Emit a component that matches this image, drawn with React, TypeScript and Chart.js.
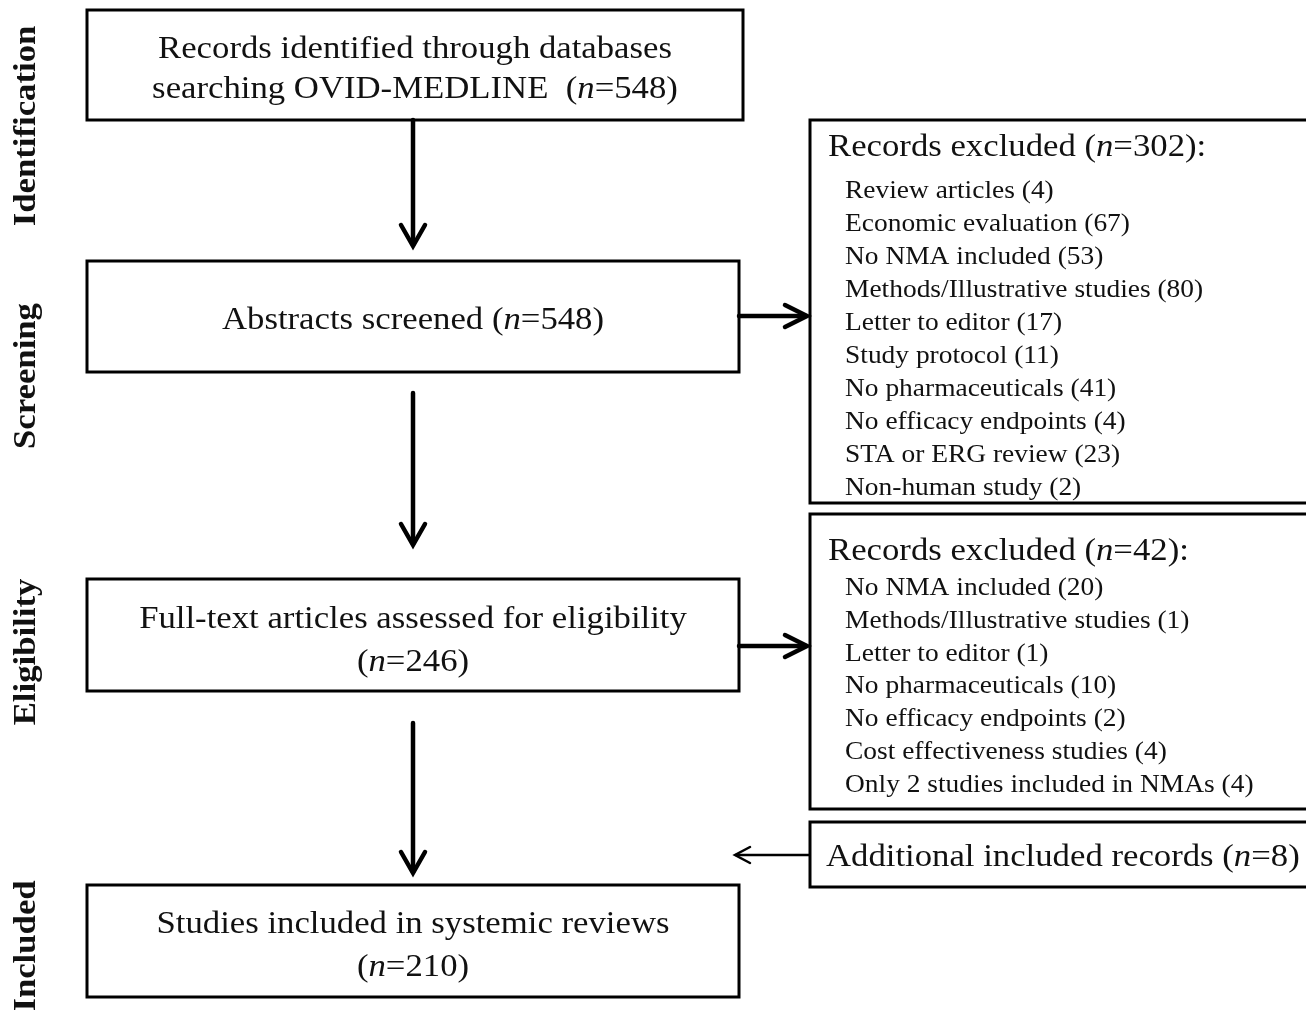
import React, { useEffect, useRef } from "react";
import { Chart, registerables } from "chart.js";

Chart.register(...registerables);

// ---------- DATA ----------
const stageLabels = ["Identification", "Screening", "Eligibility", "Included"];

const identifiedCount = 548;
const screenedCount = 548;
const fullTextCount = 246;
const includedCount = 210;
const additionalCount = 8;

const screeningExclusionReasons = [
  "Review articles",
  "Economic evaluation",
  "No NMA included",
  "Methods/Illustrative studies",
  "Letter to editor",
  "Study protocol",
  "No pharmaceuticals",
  "No efficacy endpoints",
  "STA or ERG review",
  "Non-human study",
];
const screeningExclusionCounts = [4, 67, 53, 80, 17, 11, 41, 4, 23, 2];

const eligibilityExclusionReasons = [
  "No NMA included",
  "Methods/Illustrative studies",
  "Letter to editor",
  "No pharmaceuticals",
  "No efficacy endpoints",
  "Cost effectiveness studies",
  "Only 2 studies included in NMAs",
];
const eligibilityExclusionCounts = [20, 1, 1, 10, 2, 4, 4];

// ---------- LAYOUT (pixel-space values mapped through the chart scales) ----------
const W = 1306;
const H = 1010;
const FONT = '"Liberation Serif", "Times New Roman", serif';
const STRETCH = 1.12;
const MAIN_SIZE = 31;
const ITEM_SIZE = 24.5;

const LAYOUT = {
  box1: { x0: 87, x1: 743, y0: 10, y1: 120, baselines: [58, 98] },
  box2: { x0: 87, x1: 739, y0: 261, y1: 372, baselines: [329] },
  box4: { x0: 87, x1: 739, y0: 579, y1: 691, baselines: [628, 671] },
  box7: { x0: 87, x1: 739, y0: 885, y1: 997, baselines: [933, 976] },
  ex1: { x0: 810, x1: 1312, y0: 120, y1: 503, titleX: 828, titleY: 156, itemX: 845, itemY0: 197.5, itemDy: 33.1 },
  ex2: { x0: 810, x1: 1312, y0: 514, y1: 809, titleX: 828, titleY: 560, itemX: 845, itemY0: 595, itemDy: 32.8 },
  add: { x0: 810, x1: 1312, y0: 822, y1: 887, textX: 826, textY: 866 },
  stageX: 35,
  stageY: [126, 376, 652, 946],
  arrowX: 413,
  vArrows: [
    [120, 248],
    [393, 547],
    [723, 875],
  ],
  hArrows: [
    [739, 809, 316],
    [739, 809, 646],
  ],
  backArrow: [809, 734, 855],
};

function drawRich(ctx, str, x, y, size, align, bold = false) {
  // split so that the "n" of "(n=" is italic
  const parts = str.split(/(?<=\()n(?==)/);
  const segs = [];
  parts.forEach((p, i) => {
    if (i > 0) segs.push({ t: "n", it: true });
    if (p) segs.push({ t: p, it: false });
  });
  const fontFor = (it) => `${it ? "italic " : ""}${bold ? "bold " : ""}${size}px ${FONT}`;
  let total = 0;
  segs.forEach((s) => {
    ctx.font = fontFor(s.it);
    s.w = ctx.measureText(s.t).width;
    total += s.w;
  });
  ctx.save();
  ctx.translate(x, y);
  ctx.scale(STRETCH, 1);
  let cx = align === "center" ? -total / 2 : 0;
  ctx.textAlign = "left";
  ctx.textBaseline = "alphabetic";
  segs.forEach((s) => {
    ctx.font = fontFor(s.it);
    ctx.fillText(s.t, cx, 0);
    cx += s.w;
  });
  ctx.restore();
}

const flowPlugin = {
  id: "flow",
  beforeDraw(chart) {
    const ctx = chart.ctx;
    ctx.save();
    ctx.fillStyle = "#ffffff";
    ctx.fillRect(0, 0, chart.width, chart.height);
    ctx.restore();
  },
  afterDraw(chart) {
    const ctx = chart.ctx;
    const sx = chart.scales.x;
    const sy = chart.scales.y;
    const X = (v) => sx.getPixelForValue(v);
    const Y = (v) => sy.getPixelForValue(v);

    ctx.save();
    ctx.strokeStyle = "#000";
    ctx.fillStyle = "#111";

    const box = (b) => {
      ctx.lineWidth = 3;
      ctx.strokeRect(X(b.x0), Y(b.y0), X(b.x1) - X(b.x0), Y(b.y1) - Y(b.y0));
    };

    const mainBoxes = [
      [LAYOUT.box1, ["Records identified through databases", `searching OVID-MEDLINE  (n=${identifiedCount})`]],
      [LAYOUT.box2, [`Abstracts screened (n=${screenedCount})`]],
      [LAYOUT.box4, ["Full-text articles assessed for eligibility", `(n=${fullTextCount})`]],
      [LAYOUT.box7, ["Studies included in systemic reviews", `(n=${includedCount})`]],
    ];
    mainBoxes.forEach(([b, lines]) => {
      box(b);
      const cx = (X(b.x0) + X(b.x1)) / 2;
      lines.forEach((ln, i) => drawRich(ctx, ln, cx, Y(b.baselines[i]), MAIN_SIZE, "center"));
    });

    const exBoxes = [
      [LAYOUT.ex1, screeningExclusionReasons, screeningExclusionCounts],
      [LAYOUT.ex2, eligibilityExclusionReasons, eligibilityExclusionCounts],
    ];
    exBoxes.forEach(([b, reasons, counts]) => {
      box(b);
      const total = counts.reduce((a, c) => a + c, 0);
      drawRich(ctx, `Records excluded (n=${total}):`, X(b.titleX), Y(b.titleY), MAIN_SIZE, "left");
      reasons.forEach((r, i) => {
        drawRich(ctx, `${r} (${counts[i]})`, X(b.itemX), Y(b.itemY0 + i * b.itemDy), ITEM_SIZE, "left");
      });
    });

    box(LAYOUT.add);
    drawRich(ctx, `Additional included records (n=${additionalCount})`, X(LAYOUT.add.textX), Y(LAYOUT.add.textY), MAIN_SIZE, "left");

    // arrows
    ctx.lineCap = "round";
    ctx.lineJoin = "miter";
    LAYOUT.vArrows.forEach(([a, b]) => {
      const x = X(LAYOUT.arrowX);
      ctx.lineWidth = 4.5;
      ctx.beginPath();
      ctx.moveTo(x, Y(a));
      ctx.lineTo(x, Y(b) - 3);
      ctx.stroke();
      ctx.beginPath();
      ctx.moveTo(x - 12, Y(b) - 23);
      ctx.lineTo(x, Y(b) - 2);
      ctx.lineTo(x + 12, Y(b) - 23);
      ctx.stroke();
    });
    LAYOUT.hArrows.forEach(([a, b, yy]) => {
      const y = Y(yy);
      ctx.lineWidth = 4.5;
      ctx.beginPath();
      ctx.moveTo(X(a), y);
      ctx.lineTo(X(b) - 3, y);
      ctx.stroke();
      ctx.beginPath();
      ctx.moveTo(X(b) - 24, y - 11);
      ctx.lineTo(X(b) - 2, y);
      ctx.lineTo(X(b) - 24, y + 11);
      ctx.stroke();
    });
    {
      const [a, b, yy] = LAYOUT.backArrow;
      const y = Y(yy);
      ctx.lineWidth = 2.5;
      ctx.beginPath();
      ctx.moveTo(X(a), y);
      ctx.lineTo(X(b) + 2, y);
      ctx.stroke();
      ctx.beginPath();
      ctx.moveTo(X(b) + 16, y - 8);
      ctx.lineTo(X(b) + 1, y);
      ctx.lineTo(X(b) + 16, y + 8);
      ctx.stroke();
    }

    // stage labels (rotated)
    stageLabels.forEach((lab, i) => {
      ctx.save();
      ctx.translate(X(LAYOUT.stageX), Y(LAYOUT.stageY[i]));
      ctx.rotate(-Math.PI / 2);
      ctx.scale(STRETCH, 1);
      ctx.font = `bold ${MAIN_SIZE}px ${FONT}`;
      ctx.textAlign = "center";
      ctx.textBaseline = "alphabetic";
      ctx.fillText(lab, 0, 0);
      ctx.restore();
    });

    ctx.restore();
  },
};

export default function App() {
  const ref = useRef(null);
  useEffect(() => {
    document.body.style.margin = "0";
    const chart = new Chart(ref.current, {
      type: "scatter",
      data: { datasets: [{ data: [], pointRadius: 0 }] },
      options: {
        animation: false,
        responsive: false,
        devicePixelRatio: 1,
        layout: { padding: 0 },
        plugins: { legend: { display: false }, tooltip: { enabled: false } },
        events: [],
        scales: {
          x: { type: "linear", min: 0, max: W, display: false },
          y: { type: "linear", min: 0, max: H, reverse: true, display: false },
        },
      },
      plugins: [flowPlugin],
    });
    return () => chart.destroy();
  }, []);
  return (
    <div style={{ position: "absolute", left: 0, top: 0, width: W, height: H }}>
      <canvas ref={ref} width={W} height={H} style={{ display: "block", width: W, height: H }} />
    </div>
  );
}
